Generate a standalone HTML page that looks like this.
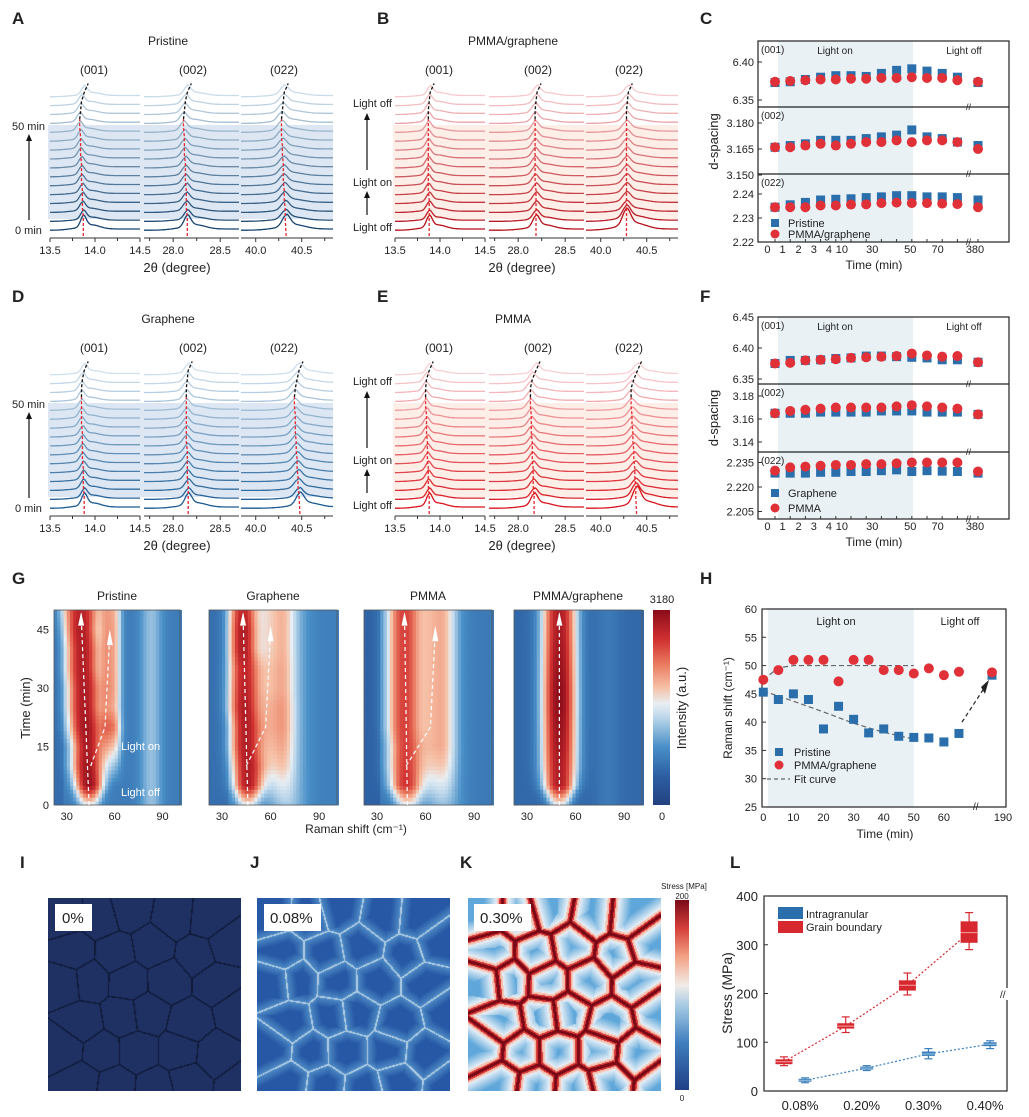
<!DOCTYPE html>
<html><head><meta charset="utf-8">
<style>
html,body{margin:0;padding:0;background:#fff;}
#wrap{position:relative;width:1029px;height:1117px;overflow:hidden;font-family:"Liberation Sans",sans-serif;}
svg text{font-family:"Liberation Sans",sans-serif;fill:#222;}
canvas{position:absolute;}
</style></head>
<body>
<div id="wrap">
<svg id="fig" width="1029" height="1117" viewBox="0 0 1029 1117" xmlns="http://www.w3.org/2000/svg"></svg>
<canvas id="cvI" width="193" height="193" style="left:48px;top:898px"></canvas>
<canvas id="cvJ" width="193" height="193" style="left:257px;top:898px"></canvas>
<canvas id="cvK" width="193" height="193" style="left:468px;top:898px"></canvas>
</div>
<script>
// ---------- DATA ----------
const pristineP001=[13.87,13.87,13.86,13.86,13.86,13.85,13.85,13.85,13.84,13.84,13.84,13.83,13.83,13.84,13.85,13.88];
const pristineP002=[28.15,28.15,28.14,28.14,28.14,28.13,28.13,28.13,28.12,28.12,28.12,28.11,28.11,28.12,28.13,28.15];
const pristineP022=[40.33,40.32,40.32,40.31,40.31,40.30,40.30,40.30,40.29,40.29,40.28,40.28,40.28,40.29,40.30,40.31];
const pgP001=[13.88,13.88,13.88,13.88,13.87,13.87,13.87,13.87,13.87,13.87,13.87,13.87,13.87,13.87,13.88,13.89];
const pgP002=[28.19,28.19,28.19,28.19,28.19,28.18,28.18,28.18,28.18,28.18,28.18,28.18,28.18,28.18,28.19,28.20];
const pgP022=[40.28,40.28,40.28,40.28,40.28,40.28,40.28,40.28,40.28,40.28,40.28,40.28,40.28,40.28,40.29,40.30];
const grP001=[13.88,13.88,13.87,13.87,13.87,13.86,13.86,13.86,13.86,13.85,13.85,13.85,13.85,13.85,13.86,13.88];
const grP002=[28.16,28.16,28.16,28.15,28.15,28.15,28.15,28.14,28.14,28.14,28.14,28.14,28.14,28.14,28.15,28.16];
const grP022=[40.48,40.47,40.46,40.46,40.45,40.45,40.44,40.44,40.43,40.43,40.43,40.42,40.42,40.43,40.45,40.47];
const pmP001=[13.88,13.88,13.87,13.87,13.87,13.86,13.86,13.86,13.85,13.85,13.85,13.84,13.84,13.84,13.85,13.88];
const pmP002=[28.17,28.17,28.16,28.16,28.16,28.15,28.15,28.15,28.14,28.14,28.14,28.13,28.13,28.13,28.15,28.19];
const pmP022=[40.39,40.38,40.38,40.37,40.37,40.36,40.36,40.35,40.35,40.34,40.34,40.33,40.33,40.33,40.36,40.40];

const timeCats=['0','1','2','3','4','10','20','30','40','50','60','70','80','380'];
const timeTickLabels=['0','1','2','3','4','10','30','50','70','380'];
const timeTickIdx=[-0.5,0.5,1.55,2.55,3.55,4.4,6.4,8.9,10.7,13.2];
const cPristine001=[6.373,6.374,6.377,6.380,6.382,6.382,6.381,6.385,6.389,6.391,6.388,6.385,6.380,6.373];
const cPG001=[6.374,6.375,6.376,6.377,6.377,6.378,6.378,6.379,6.379,6.380,6.379,6.379,6.376,6.374];
const cPristine002=[3.166,3.167,3.168,3.170,3.170,3.170,3.171,3.172,3.173,3.176,3.172,3.171,3.169,3.167];
const cPG002=[3.166,3.166,3.167,3.168,3.167,3.168,3.169,3.169,3.170,3.169,3.170,3.170,3.169,3.165];
const cPristine022=[2.2345,2.2355,2.2365,2.2375,2.2378,2.238,2.2385,2.2388,2.2393,2.2393,2.2388,2.2388,2.2385,2.2375];
const cPG022=[2.2345,2.2345,2.2345,2.2352,2.2352,2.2356,2.2357,2.2362,2.2364,2.2362,2.2362,2.236,2.2358,2.2345];
const fGr001=[6.375,6.380,6.380,6.381,6.383,6.384,6.387,6.387,6.386,6.385,6.384,6.381,6.381,6.377];
const fPM001=[6.375,6.376,6.380,6.381,6.382,6.384,6.385,6.386,6.387,6.391,6.388,6.386,6.387,6.377];
const fGr002=[3.165,3.165,3.165,3.166,3.166,3.166,3.166,3.167,3.167,3.167,3.166,3.166,3.166,3.164];
const fPM002=[3.165,3.167,3.168,3.169,3.170,3.170,3.170,3.170,3.171,3.172,3.171,3.170,3.169,3.164];
const fGr022=[2.2285,2.2285,2.2285,2.229,2.229,2.2295,2.2295,2.230,2.2305,2.2295,2.230,2.2297,2.2295,2.2285];
const fPM022=[2.230,2.232,2.2325,2.233,2.2335,2.2335,2.234,2.234,2.2345,2.235,2.235,2.235,2.235,2.2295];

const hmTimes=[0,5,10,15,20,25,30,35,40,45,50];
const prCenter=[44,44,43,43,42,41,41,40,40,39,39], prWidth=[7,9,10,10,11,11,11,11,11,11,12], prAmp=[0.5,0.97,0.95,0.93,0.95,0.93,0.93,0.92,0.92,0.92,0.9], prShoulder=[0,0,0.15,0.35,0.5,0.4,0.42,0.42,0.42,0.42,0.4];
const grCenter=[46,46,46,45,45,44,44,44,43,43,43], grWidth=[7,9,10,10,10,10,10,10,9,9,9], grAmp=[0.5,0.92,0.92,0.92,0.92,0.92,0.9,0.88,0.92,0.92,0.88], grShoulder=[0.05,0.15,0.25,0.3,0.33,0.33,0.3,0.3,0.28,0.28,0.28];
const pmCenter=[49,48,48,48,47,47,47,47,47,47,47], pmWidth=[8,10,11,11,11,11,11,11,11,11,11], pmAmp=[0.5,0.85,0.83,0.82,0.82,0.82,0.82,0.82,0.82,0.82,0.82], pmShoulder=[0.05,0.15,0.25,0.3,0.3,0.3,0.3,0.3,0.3,0.3,0.3];
const pgCenter=[50,50,50,50,50,50,50,50,50,50,50], pgWidth=[7,10,11,11,11,11,11,11,11,11,11], pgAmp=[0.5,0.92,0.92,0.95,0.97,0.99,0.99,0.97,0.95,0.93,0.92], pgShoulder=[0,0,0,0,0,0,0,0,0,0,0];

const hTimes=[0,5,10,15,20,25,30,35,40,45,50,55,60,65,190];
const hPristine=[45.3,44.0,45.0,44.0,38.8,42.8,40.5,38.1,38.8,37.5,37.3,37.2,36.5,38.0,48.3];
const hPG=[47.5,49.2,51.0,51.0,51.0,47.2,51.0,51.0,49.2,49.2,48.6,49.5,48.3,48.9,48.8];
const fitPGT=[0,5,10,20,30,40,50], fitPGV=[47.5,49.6,50,50,50,50,50];
const fitPrT=[0,10,20,30,40,50], fitPrV=[45.5,43.7,41.8,39.8,38.2,37.0];

const strainCats=['0.08%','0.20%','0.30%','0.40%'];
const gbMed=[60,133,217,325], gbQ1=[55,128,206,304], gbQ3=[65,139,227,348], gbMin=[52,120,197,290], gbMax=[70,152,242,366];
const inMed=[22,47,76,96], inQ1=[19,44,72,92], inQ3=[25,50,81,100], inMin=[17,42,66,87], inMax=[27,52,87,103];

// ---------- HELPERS ----------
const NS='http://www.w3.org/2000/svg';
const svg=document.getElementById('fig');
function mk(tag,attrs,parent){const e=document.createElementNS(NS,tag);for(const k in attrs)e.setAttribute(k,attrs[k]);(parent||svg).appendChild(e);return e;}
function txt(x,y,s,attrs,parent){const e=mk('text',Object.assign({x:x,y:y},attrs||{}),parent);e.textContent=s;return e;}
function hex(c){return [parseInt(c.slice(1,3),16),parseInt(c.slice(3,5),16),parseInt(c.slice(5,7),16)];}
function lerpC(a,b,t){const A=hex(a),B=hex(b);return 'rgb('+A.map((v,i)=>Math.round(v+(B[i]-v)*t)).join(',')+')';}
const cmap=[[0,'#23417f'],[0.15,'#2c5fa3'],[0.3,'#4a90c8'],[0.45,'#bcd7eb'],[0.52,'#e8eef2'],[0.6,'#f6c2a8'],[0.72,'#ea7b60'],[0.85,'#d03030'],[1,'#8a0c1a']];
function cm(v){v=Math.max(0,Math.min(1,v));for(let i=1;i<cmap.length;i++){if(v<=cmap[i][0]){const t=(v-cmap[i-1][0])/(cmap[i][0]-cmap[i-1][0]);return lerpC(cmap[i-1][1],cmap[i][1],t);}}return cmap[cmap.length-1][1];}

[['A',12,24],['B',377,24],['C',700,24],['D',12,302],['E',377,302],['F',700,302],['G',12,584],['H',700,584],['I',20,868],['J',250,868],['K',460,868],['L',730,868]].forEach(p=>{
  const t=txt(p[1],p[2],p[0],{'font-size':17,'font-weight':'bold',fill:'#111'});
  
  
});

// ---------- SPECTRA PANELS ----------
const segs=[{d0:13.5,d1:14.5,x0:50,x1:140,ticks:[13.5,14.0,14.5],minor:[13.75,14.25],s:0.045},
            {d0:27.69,d1:28.70,x0:144,x1:239,ticks:[28.0,28.5],minor:[27.75,28.25],s:0.05},
            {d0:39.84,d1:40.84,x0:241,x1:333,ticks:[40.0,40.5],minor:[40.25,40.75],s:0.06}];
function spectra(ox,oy,name,title,c0,c1,shade,peaks,mode){
  const g=mk('g',{});
  
  
  const sh=mk('rect',{x:ox+48,y:oy+125,width:285,height:94,fill:shade},g);
  
  
  segs.forEach((sg,si)=>{
    const X=d=>ox+sg.x0+(d-sg.d0)/(sg.d1-sg.d0)*(sg.x1-sg.x0);
    for(let i=0;i<16;i++){
      const yb=oy+229-i*8.9, p=peaks[si][i], h=(i===0?11:8)*(si===2&&i<2&&mode==='light'?1.4:1);
      let d='';
      for(let k=0;k<=70;k++){const dv=sg.d0+(sg.d1-sg.d0)*k/70;
        const pk=Math.exp(-Math.pow((dv-p)/sg.s,2))+0.35*Math.exp(-Math.pow((dv-p-0.1)/(sg.s*2.8),2))+0.15*Math.exp(-Math.pow((dv-p+0.08)/(sg.s*3),2));
        const y=yb-h*pk+(dv<p?1.2:0);
        d+=(k?'L':'M')+X(dv).toFixed(1)+' '+y.toFixed(1);}
      const tr=mk('path',{d:d,fill:'none',stroke:lerpC(c0,c1,i/15),'stroke-width':1.3},g);
      
      
    }
    let r='',b='';
    for(let i=0;i<=12;i++){r+=(i?' ':'')+X(peaks[si][i]).toFixed(1)+','+(oy+229-i*8.9-(i===0?-7:3)).toFixed(1);}
    for(let i=12;i<16;i++){b+=(i>12?' ':'')+X(peaks[si][i]).toFixed(1)+','+(oy+229-i*8.9-3).toFixed(1);}
    b+=' '+(X(peaks[si][15])+4).toFixed(1)+','+(oy+229-15*8.9-12).toFixed(1);
    const rl=mk('polyline',{points:r,fill:'none',stroke:'#e8262e','stroke-width':1.3,'stroke-dasharray':'3,2'},g);
    
    
    const bl=mk('polyline',{points:b,fill:'none',stroke:'#111','stroke-width':1.3,'stroke-dasharray':'3,2'},g);
    
    
    const ax=mk('line',{x1:ox+sg.x0,x2:ox+sg.x1,y1:oy+238,y2:oy+238,stroke:'#333','stroke-width':1},g);
    
    
    sg.ticks.forEach(t=>{const x=X(t);
      const tk=mk('line',{x1:x,x2:x,y1:oy+238,y2:oy+242,stroke:'#333'},g);
      
      
      const tl=txt(x,oy+254,t.toFixed(1),{'font-size':11,'text-anchor':'middle'},g);
      
      });
    sg.minor.forEach(t=>{const x=X(t);
      const tk=mk('line',{x1:x,x2:x,y1:oy+238,y2:oy+241,stroke:'#333'},g);
      
      });
  });
  const tt=txt(ox+168,oy+45,title,{'font-size':12,'text-anchor':'middle'},g);
  
  
  [['(001)',94],['(002)',193],['(022)',284]].forEach(q=>{
    const pl=txt(ox+q[1],oy+74,q[0],{'font-size':12,'text-anchor':'middle'},g);
    
    });
  const xl=txt(ox+177,oy+272,'2θ (degree)',{'font-size':13,'text-anchor':'middle'},g);
  
  
  if(mode==='time'){
    const a=txt(ox+12,oy+130,'50 min',{'font-size':11},g);
    
    
    const b2=txt(ox+15,oy+234,'0 min',{'font-size':11},g);
    
    
    const ar=mk('line',{x1:ox+29,x2:ox+29,y1:oy+220,y2:oy+140,stroke:'#111','stroke-width':1.2},g);
    
    
    const ah=mk('path',{d:`M${ox+26} ${oy+141}L${ox+29} ${oy+134}L${ox+32} ${oy+141}Z`,fill:'#111'},g);
    
    
  } else {
    [['Light off',107],['Light on',186],['Light off',231]].forEach(q=>{
      const l=txt(ox+8,oy+q[1],q[0],{'font-size':11},g);
      
      });
    [[170,114],[215,192]].forEach(q=>{
      const ar=mk('line',{x1:ox+22,x2:ox+22,y1:oy+q[0],y2:oy+q[1]+5,stroke:'#111','stroke-width':1.2},g);
      
      
      const ah=mk('path',{d:`M${ox+19} ${oy+q[1]+6}L${ox+22} ${oy+q[1]-1}L${ox+25} ${oy+q[1]+6}Z`,fill:'#111'},g);
      
      });
  }
}
spectra(0,0,'pristine','Pristine','#18456f','#c9dcea','#dce7f3',[pristineP001,pristineP002,pristineP022],'time');
spectra(345,0,'pmma-graphene','PMMA/graphene','#b5121b','#f7c9cc','#fdeee8',[pgP001,pgP002,pgP022],'light');
spectra(0,278,'graphene','Graphene','#1b5a92','#cfe0ee','#dce7f3',[grP001,grP002,grP022],'time');
spectra(345,278,'pmma','PMMA','#d8141c','#f8cfd2','#fdeee8',[pmP001,pmP002,pmP022],'light');

// ---------- D-SPACING PANELS ----------
function dPanel(name,box,subs,legendNames,legY){
  const g=mk('g',{});
  
  
  const X=i=>i<13?775+i*15.2:978;
  const sh=mk('rect',{x:778,y:box.top,width:135,height:box.bottom-box.top,fill:'#e9f1f5'},g);
  
  
  subs.forEach((s,si)=>{
    const Y=v=>s.y0-(v-s.v0)*s.k;
    s.ticks.forEach(t=>{
      const tk=mk('line',{x1:758,x2:762,y1:Y(t),y2:Y(t),stroke:'#333'},g);
      
      
      const tl=txt(754,Y(t)+4,t.toFixed(s.dec),{'font-size':11,'text-anchor':'end'},g);
      
      });
    const lab=txt(761,s.top+12,['(001)','(002)','(022)'][si],{'font-size':10},g);
    
    
    for(let i=0;i<14;i++){
      const m=mk('rect',{x:X(i)-4.5,y:Y(s.a[i])-4.5,width:9,height:9,fill:'#2a6fab'},g);
      
      
    }
    for(let i=0;i<14;i++){
      const m=mk('circle',{cx:X(i),cy:Y(s.b[i]),r:5,fill:'#e03038'},g);
      
      
    }
    if(si>0){const dl=mk('line',{x1:758,x2:1009,y1:s.top,y2:s.top,stroke:'#222','stroke-width':1.2},g);
      
      }
    const br=txt(966,s.bottom+3,'//',{'font-size':9,fill:'#333'},g);
    
    
  });
  const bx=mk('rect',{x:758,y:box.top,width:251,height:box.bottom-box.top,fill:'none',stroke:'#222','stroke-width':1.2},g);
  
  
  for(let i=0;i<14;i++){const tk=mk('line',{x1:X(i),x2:X(i),y1:box.bottom,y2:box.bottom-3,stroke:'#333'},g);
    
    }
  timeTickLabels.forEach((l,j)=>{
    const x=timeTickIdx[j]>13?975:775+timeTickIdx[j]*15.2;
    const tl=txt(x,box.bottom+11,l,{'font-size':11,'text-anchor':'middle'},g);
    
    });
  const lo=txt(835,box.top+13,'Light on',{'font-size':10,'text-anchor':'middle'},g);
  
  
  const lf=txt(964,box.top+13,'Light off',{'font-size':10,'text-anchor':'middle'},g);
  
  
  const xl=txt(874,box.bottom+27,'Time (min)',{'font-size':12,'text-anchor':'middle'},g);
  
  
  const cy=(box.top+box.bottom)/2;
  const yl=txt(0,0,'d-spacing',{'font-size':13,'text-anchor':'middle',transform:`translate(718,${cy}) rotate(-90)`},g);
  
  
  const ls=mk('rect',{x:771,y:legY[0]-4,width:8,height:8,fill:'#2a6fab'},g);
  
  
  const lt1=txt(788,legY[0]+4,legendNames[0],{'font-size':11},g);
  
  
  const lc=mk('circle',{cx:775,cy:legY[1],r:4.5,fill:'#e03038'},g);
  
  
  const lt2=txt(788,legY[1]+4,legendNames[1],{'font-size':11},g);
  
  
}
dPanel('c',{top:41,bottom:242},[
  {top:41,bottom:107,y0:62,v0:6.40,k:760,ticks:[6.40,6.35],dec:2,a:cPristine001,b:cPG001},
  {top:107,bottom:174,y0:149,v0:3.165,k:1733,ticks:[3.180,3.165,3.150],dec:3,a:cPristine002,b:cPG002},
  {top:174,bottom:242,y0:218,v0:2.23,k:2400,ticks:[2.24,2.23,2.22],dec:2,a:cPristine022,b:cPG022}],
  ['Pristine','PMMA/graphene'],[223,234]);
dPanel('f',{top:317,bottom:519},[
  {top:317,bottom:384,y0:348,v0:6.40,k:620,ticks:[6.45,6.40,6.35],dec:2,a:fGr001,b:fPM001},
  {top:384,bottom:452,y0:419,v0:3.16,k:1150,ticks:[3.18,3.16,3.14],dec:2,a:fGr002,b:fPM002},
  {top:452,bottom:519,y0:487,v0:2.220,k:1633,ticks:[2.235,2.220,2.205],dec:3,a:fGr022,b:fPM022}],
  ['Graphene','PMMA'],[493,508]);

// ---------- HEATMAPS (G) ----------
function interp(arr,t){const f=t/5,i=Math.min(9,Math.floor(f)),u=f-i;return arr[i]+(arr[i+1]-arr[i])*u;}
function heat(name,title,x0,x1,C,W,A,S,sc,sw,bgf,showY){
  const g=mk('g',{});
  
  
  const y0=610,y1=805,cm0=22,cm1=101;
  const X=c=>x0+(c-cm0)/(cm1-cm0)*(x1-x0), Y=t=>y1-t/50*(y1-y0);
  for(let t=0;t<50;t+=1){
    for(let c=cm0;c<cm1;c+=2){
      const cc=interp(C,t+0.5),w=interp(W,t+0.5),a=interp(A,t+0.5),s=interp(S,t+0.5);
      const xm=c+1, bg=bgf(xm);
      const pk=Math.exp(-Math.pow(Math.abs((xm-cc)/w),2.4));
      const sh=Math.exp(-Math.pow(Math.abs((xm-sc)/sw),3));
      let v=bg+(a-bg)*pk+s*sh*(1-pk);
      const r=mk('rect',{x:X(c).toFixed(2),y:Y(t+1).toFixed(2),width:((x1-x0)*2/(cm1-cm0)+0.4).toFixed(2),height:(195/50+0.4).toFixed(2),fill:cm(v)},g);
      
      
    }
  }
  const fr=mk('rect',{x:x0,y:y0,width:x1-x0,height:y1-y0,fill:'none',stroke:'#555','stroke-width':0.8},g);
  
  
  [30,60,90].forEach(v=>{
    const tl=txt(X(v),y1+15,String(v),{'font-size':11,'text-anchor':'middle'},g);
    
    });
  if(showY){[0,15,30,45].forEach(v=>{
    const tl=txt(x0-5,Y(v)+4,String(v),{'font-size':11,'text-anchor':'end'},g);
    
    });}
  const tt=txt((x0+x1)/2,600,title,{'font-size':12,'text-anchor':'middle'},g);
  
  
  const gd=mk('polyline',{points:`${X(interp(C,1))},${y1} ${X(interp(C,48))},${Y(49)}`,fill:'none',stroke:'#fff','stroke-width':1.2,'stroke-dasharray':'4,3'},g);
  
  
  const ah=mk('path',{d:`M${X(interp(C,48))-3} ${Y(46)}L${X(interp(C,48))} ${Y(49.5)}L${X(interp(C,48))+3} ${Y(46)}Z`,fill:'#fff'},g);
  
  
  return {X:X,Y:Y};
}
const bgP=x=>0.24+0.16*Math.exp(-Math.pow((x-83)/7,2))-(x<28?0.05:0);
const bgG=x=>0.25+0.14*Math.exp(-Math.pow((x-72)/11,2))-(x<34?0.05:0);
const bgM=x=>0.23+0.12*Math.exp(-Math.pow((x-72)/12,2))-(x<32?0.07:0);
const bgPG=x=>0.18+0.05*Math.exp(-Math.pow((x-80)/8,2));
const h1=heat('pristine','Pristine',54,180,prCenter,prWidth,prAmp,prShoulder,57,7,bgP,true);
const h2=heat('graphene','Graphene',209,337,grCenter,grWidth,grAmp,grShoulder,62,12,bgG,false);
const h3=heat('pmma','PMMA',364,492,pmCenter,pmWidth,pmAmp,pmShoulder,66,12,bgM,false);
const h4=heat('pmma-graphene','PMMA/graphene',514,642,pgCenter,pgWidth,pgAmp,pgShoulder,60,5,bgPG,false);
[[h1,45,10,57,44],[h2,45,10,60,45],[h3,48,10,66,45]].forEach(q=>{
  const h=q[0];
  const l=mk('polyline',{points:`${h.X(q[1])},${h.Y(q[2])} ${h.X(q[3]-3)},${h.Y(20)} ${h.X(q[3])},${h.Y(q[4])}`,fill:'none',stroke:'#fff','stroke-width':1.2,'stroke-dasharray':'4,3'});
  
  
  const ah=mk('path',{d:`M${h.X(q[3])-3} ${h.Y(q[4]-3)}L${h.X(q[3])} ${h.Y(q[4]+1)}L${h.X(q[3])+3} ${h.Y(q[4]-3)}Z`,fill:'#fff'});
  
  
});
const lon=txt(121,750,'Light on',{'font-size':11,style:'fill:#fff'});


const loff=txt(121,796,'Light off',{'font-size':11,style:'fill:#fff'});


const gyl=txt(0,0,'Time (min)',{'font-size':13,'text-anchor':'middle',transform:'translate(30,708) rotate(-90)'});


const gxl=txt(356,833,'Raman shift (cm⁻¹)',{'font-size':12,'text-anchor':'middle'});


const defs=mk('defs',{});
function grad(id,stops){const lg=mk('linearGradient',{id:id,x1:0,y1:1,x2:0,y2:0},defs);stops.forEach(s=>mk('stop',{offset:s[0],'stop-color':s[1]},lg));}
grad('cbG',cmap);
grad('cbK',[[0,'#1f3f86'],[0.25,'#3f7fbf'],[0.45,'#a9cce4'],[0.55,'#f1ece9'],[0.7,'#f3a385'],[0.85,'#d5403a'],[1,'#7a0a18']]);
const cb=mk('rect',{x:653,y:610,width:17,height:195,fill:'url(#cbG)'});


const cbt=txt(662,603,'3180',{'font-size':11,'text-anchor':'middle'});


const cbb=txt(662,820,'0',{'font-size':11,'text-anchor':'middle'});


const cbl=txt(0,0,'Intensity (a.u.)',{'font-size':13,'text-anchor':'middle',transform:'translate(686,708) rotate(-90)'});



// ---------- H CHART ----------
(function(){
  const g=mk('g',{});
  
  
  const X=t=>t<=65?763.3+t*3.01:992, Y=v=>609+(60-v)*5.657;
  const sh=mk('rect',{x:768,y:609,width:X(50)-768,height:198,fill:'#e9f1f5'},g);
  
  
  const fr=mk('rect',{x:762,y:609,width:244,height:198,fill:'none',stroke:'#222','stroke-width':1.2},g);
  
  
  [25,30,35,40,45,50,55,60].forEach(v=>{
    const tl=txt(757,Y(v)+4,String(v),{'font-size':11,'text-anchor':'end'},g);
    
    
    const tk=mk('line',{x1:762,x2:766,y1:Y(v),y2:Y(v),stroke:'#333'},g);
    
    });
  [0,10,20,30,40,50,60].forEach(v=>{
    const tl=txt(X(v),821,String(v),{'font-size':11,'text-anchor':'middle'},g);
    
    });
  const t190=txt(1003,821,'190',{'font-size':11,'text-anchor':'middle'},g);
  
  
  const br=txt(973,810,'//',{'font-size':10,fill:'#333'},g);
  
  
  const f1=mk('polyline',{points:fitPGT.map((t,i)=>X(t)+','+Y(fitPGV[i])).join(' '),fill:'none',stroke:'#666','stroke-width':1.2,'stroke-dasharray':'5,3'},g);
  
  
  const f2=mk('polyline',{points:fitPrT.map((t,i)=>X(t)+','+Y(fitPrV[i])).join(' '),fill:'none',stroke:'#666','stroke-width':1.2,'stroke-dasharray':'5,3'},g);
  
  
  const ar=mk('line',{x1:X(65)+3,y1:Y(40),x2:X(190)-6,y2:Y(46.5),stroke:'#222','stroke-width':1.2,'stroke-dasharray':'4,3'},g);
  
  
  const ah=mk('path',{d:`M${X(190)-11} ${Y(46.2)}L${X(190)-3} ${Y(47.5)}L${X(190)-7} ${Y(45)}Z`,fill:'#222'},g);
  
  
  hTimes.forEach((t,i)=>{
    const m=mk('rect',{x:X(t)-4.5,y:Y(hPristine[i])-4.5,width:9,height:9,fill:'#2a6fab'},g);
    
    });
  hTimes.forEach((t,i)=>{
    const m=mk('circle',{cx:X(t),cy:Y(hPG[i]),r:5,fill:'#e03038'},g);
    
    });
  const lo=txt(836,625,'Light on',{'font-size':11,'text-anchor':'middle'},g);
  
  
  const lf=txt(960,625,'Light off',{'font-size':11,'text-anchor':'middle'},g);
  
  
  const l1=mk('rect',{x:775,y:748,width:8,height:8,fill:'#2a6fab'},g);
  
  
  const lt1=txt(794,756,'Pristine',{'font-size':11},g);
  
  
  const l2=mk('circle',{cx:779,cy:765,r:4.5,fill:'#e03038'},g);
  
  
  const lt2=txt(794,769,'PMMA/graphene',{'font-size':11},g);
  
  
  const l3=mk('line',{x1:767,x2:790,y1:779,y2:779,stroke:'#666','stroke-dasharray':'4,3','stroke-width':1.2},g);
  
  
  const lt3=txt(794,783,'Fit curve',{'font-size':11},g);
  
  
  const yl=txt(0,0,'Raman shift (cm⁻¹)',{'font-size':12,'text-anchor':'middle',transform:'translate(732,708) rotate(-90)'},g);
  
  
  const xl=txt(885,838,'Time (min)',{'font-size':12,'text-anchor':'middle'},g);
  
  
})();

// ---------- L CHART ----------
(function(){
  const g=mk('g',{});
  
  
  const Y=v=>1091-v*0.4875, XC=i=>798+i*61.7;
  const fr=mk('rect',{x:764,y:896,width:243,height:195,fill:'none',stroke:'#222','stroke-width':1.2},g);
  
  
  [0,100,200,300,400].forEach(v=>{
    const tl=txt(758,Y(v)+5,String(v),{'font-size':13,'text-anchor':'end'},g);
    
    
    const tk=mk('line',{x1:764,x2:768,y1:Y(v),y2:Y(v),stroke:'#333'},g);
    
    });
  strainCats.forEach((c,i)=>{
    const tl=txt(XC(i)+2,1110,c,{'font-size':13,'text-anchor':'middle'},g);
    
    });
  const bx=mk('rect',{x:1001,y:988,width:12,height:12,fill:'#fff'},g);
  
  
  const bt=txt(1000,998,'//',{'font-size':10,fill:'#333'},g);
  
  
  function series(med,q1,q3,mn,mx,dx,wd,col,lite,nm){
    const ln=mk('polyline',{points:med.map((m,i)=>(XC(i)+dx)+','+Y(m)).join(' '),fill:'none',stroke:col,'stroke-width':1.2,'stroke-dasharray':'2,2'},g);
    
    
    med.forEach((m,i)=>{
      const x=XC(i)+dx;
      const wk=mk('line',{x1:x,x2:x,y1:Y(mn[i]),y2:Y(mx[i]),stroke:col,'stroke-width':1.2},g);
      
      
      [mn[i],mx[i]].forEach(v=>{const cp=mk('line',{x1:x-4,x2:x+4,y1:Y(v),y2:Y(v),stroke:col,'stroke-width':1.2},g);
        
        });
      const b=mk('rect',{x:x-wd/2,y:Y(q3[i]),width:wd,height:Math.max(2,Y(q1[i])-Y(q3[i])),fill:col},g);
      
      
      const md=mk('line',{x1:x-wd/2,x2:x+wd/2,y1:Y(m),y2:Y(m),stroke:lite,'stroke-width':1},g);
      
      
    });
  }
  series(inMed,inQ1,inQ3,inMin,inMax,7,13,'#3a7fbd','#9cc3e4','intragranular');
  series(gbMed,gbQ1,gbQ3,gbMin,gbMax,-14,17,'#d7282f','#f6a0a0','grain-boundary');
  const lb=mk('rect',{x:778,y:907,width:25,height:12,fill:'#2a6fab'},g);
  
  
  const lt1=txt(806,918,'Intragranular',{'font-size':11},g);
  
  
  const lr=mk('rect',{x:778,y:921,width:25,height:12,fill:'#d7282f'},g);
  
  
  const lt2=txt(806,931,'Grain boundary',{'font-size':11},g);
  
  
  const yl=txt(0,0,'Stress (MPa)',{'font-size':14,'text-anchor':'middle',transform:'translate(732,993) rotate(-90)'},g);
  
  
})();

const kcb=mk('rect',{x:675,y:900,width:14,height:190,fill:'url(#cbK)'});


const kct=txt(684,889,'Stress [MPa]',{'font-size':8,'text-anchor':'middle'});


const kmx=txt(682,899,'200',{'font-size':8,'text-anchor':'middle'});


const kmn=txt(682,1101,'0',{'font-size':8,'text-anchor':'middle'});



// Voronoi grain maps
const seeds=[];
let sd=98765;function rnd(){sd=(sd*1103515245+12345)%2147483648;return sd/2147483648;}
for(let r=0;r<6;r++)for(let c=0;c<5;c++){seeds.push([(c+0.5+(r%2?0.25:-0.25)+0.4*(rnd()-0.5))*193/5,(r+0.5+0.4*(rnd()-0.5))*193/5.6]);}
function drawGrains(id,mode){
  const cv=document.getElementById(id),ctx=cv.getContext('2d'),img=ctx.createImageData(193,193);
  for(let y=0;y<193;y++)for(let x=0;x<193;x++){
    let b1=1e9,b2=1e9,i1=0,i2=0;
    for(let k=0;k<seeds.length;k++){const dx=x-seeds[k][0],dy=y-seeds[k][1],d=dx*dx+dy*dy;if(d<b1){b2=b1;i2=i1;b1=d;i1=k;}else if(d<b2){b2=d;i2=k;}}
    const sx=seeds[i2][0]-seeds[i1][0],sy=seeds[i2][1]-seeds[i1][1];
    const e=(b2-b1)/(2*Math.sqrt(sx*sx+sy*sy));
    let c;
    if(mode==='I'){c=e<0.7?[16,26,56]:[31,49,99];}
    else if(mode==='J'){if(e<0.8)c=[175,205,228];else{const t=Math.min(1,e/10);c=[Math.round(80-42*t),Math.round(140-52*t),Math.round(198-33*t)];}}
    else{if(e<1.6)c=[120,8,22];else if(e<3.2)c=[214,52,50];else if(e<5.5)c=[246,196,180];else{const t=Math.min(1,(e-5.5)/13);c=[Math.round(235-140*t),Math.round(242-75*t),Math.round(248-30*t)];}}
    const p=(y*193+x)*4;img.data[p]=c[0];img.data[p+1]=c[1];img.data[p+2]=c[2];img.data[p+3]=255;
  }
  ctx.putImageData(img,0,0);
}
drawGrains('cvI','I');
drawGrains('cvJ','J');
drawGrains('cvK','K');
</script>
<svg width="1029" height="1117" style="position:absolute;left:0;top:0;pointer-events:none">
<rect x="55" y="904" width="37" height="27" fill="#fff"/>
<text x="62" y="923" font-size="15" font-family="Liberation Sans, sans-serif" fill="#222">0%</text>
<rect x="264" y="904" width="57" height="27" fill="#fff"/>
<text x="270" y="923" font-size="15" font-family="Liberation Sans, sans-serif" fill="#222">0.08%</text>
<rect x="474" y="904" width="57" height="27" fill="#fff"/>
<text x="480" y="923" font-size="15" font-family="Liberation Sans, sans-serif" fill="#222">0.30%</text>
</svg>
</body></html>
